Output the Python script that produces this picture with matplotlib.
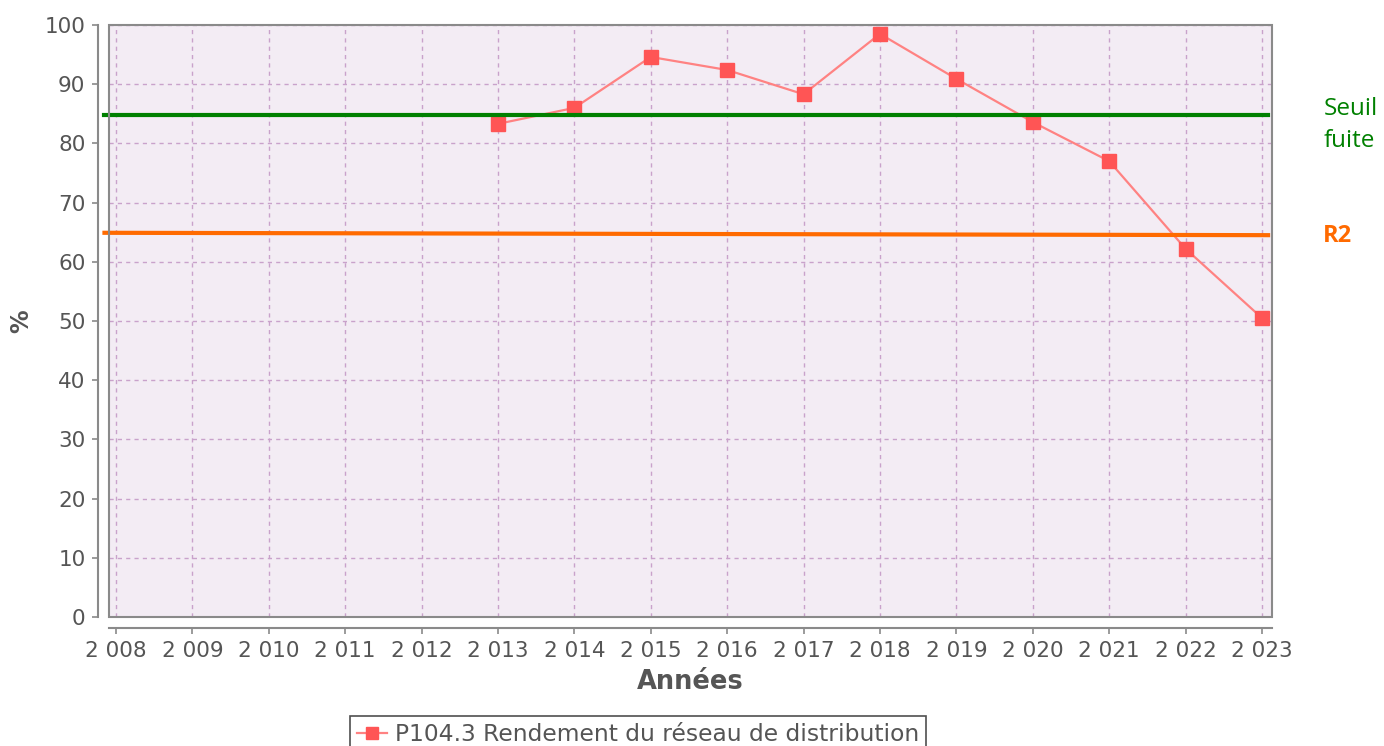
import matplotlib
matplotlib.use("Agg")
import matplotlib.pyplot as plt
from matplotlib.patches import Rectangle
from matplotlib.lines import Line2D

plt.rcParams["font.family"] = ["DejaVu Sans"]

# données
annees = [2013, 2014, 2015, 2016, 2017, 2018, 2019, 2020, 2021, 2022, 2023]
rendement = [83.3, 86.0, 94.6, 92.4, 88.3, 98.5, 90.9, 83.6, 77.0, 62.2, 50.5]
ticks_x = list(range(2008, 2024))
ticks_y = list(range(0, 101, 10))
seuil_fuite = [84.8, 84.8]
seuil_r2 = [64.9, 64.5]
seuil_x = [2007.85, 2023.08]

fig = plt.figure(figsize=(13.84, 7.46), dpi=100)
ax = fig.add_axes([0.0788, 0.1729, 0.8402, 0.7936])

ax.set_facecolor("#F3ECF4")
ax.set_xlim(2007.91, 2023.13)
ax.set_ylim(0, 100)

ax.grid(True, color="#C9A2CB", linestyle=(0, (3, 3)), linewidth=1)
ax.set_axisbelow(True)

ax.plot(annees, rendement, color="#FF8282", linewidth=1.6, marker="s",
        markersize=10, markerfacecolor="#FF5555", markeredgecolor="#FF5555",
        zorder=3)

ax.plot(seuil_x, seuil_fuite, color="#008000", linewidth=3, clip_on=False, zorder=4)
ax.plot(seuil_x, seuil_r2, color="#FF6A00", linewidth=3, clip_on=False, zorder=4)

# bordure de la zone de tracé
ax.add_patch(Rectangle((0, 0), 1, 1, transform=ax.transAxes, fill=False,
                       edgecolor="#8A8A8A", linewidth=1.5, zorder=5, clip_on=False))

for s in ["top", "right"]:
    ax.spines[s].set_visible(False)
for s in ["left", "bottom"]:
    ax.spines[s].set_position(("outward", 8))
    ax.spines[s].set_color("#8A8A8A")
    ax.spines[s].set_linewidth(1.5)

ax.set_xticks(ticks_x)
ax.set_xticklabels(["{} {:03d}".format(t // 1000, t % 1000) for t in ticks_x])
ax.set_yticks(ticks_y)
ax.tick_params(axis="both", colors="#8A8A8A", labelcolor="#555555",
               labelsize=15.5, length=4, width=1.2, pad=5)

ax.set_xlabel("Années", fontsize=18.5, fontweight="bold", color="#555555", labelpad=6)
ax.set_ylabel("%", fontsize=17, fontweight="bold", color="#555555", labelpad=8)

fig.text(0.9565, 0.833, "Seuil\nfuite", color="#008000", fontsize=17.5,
         family="Open Sans", va="center", ha="left", linespacing=1.45)
fig.text(0.9555, 0.684, "R2", color="#FF6A00", fontsize=17, fontweight="bold",
         family="Open Sans", va="center", ha="left")

handle = Line2D([], [], color="#FF8282", linewidth=1.6, marker="s", markersize=9,
                markerfacecolor="#FF5555", markeredgecolor="#FF5555")
leg = fig.legend([handle], ["P104.3 Rendement du réseau de distribution"],
                 loc="lower center", bbox_to_anchor=(0.461, -0.025),
                 fontsize=16.8, frameon=True, fancybox=False, handlelength=1.3,
                 handletextpad=0.35, borderpad=0.3, labelcolor="#555555")
leg.get_frame().set_edgecolor("#222222")
leg.get_frame().set_linewidth(1.2)

fig.savefig("out.png", dpi=100)
